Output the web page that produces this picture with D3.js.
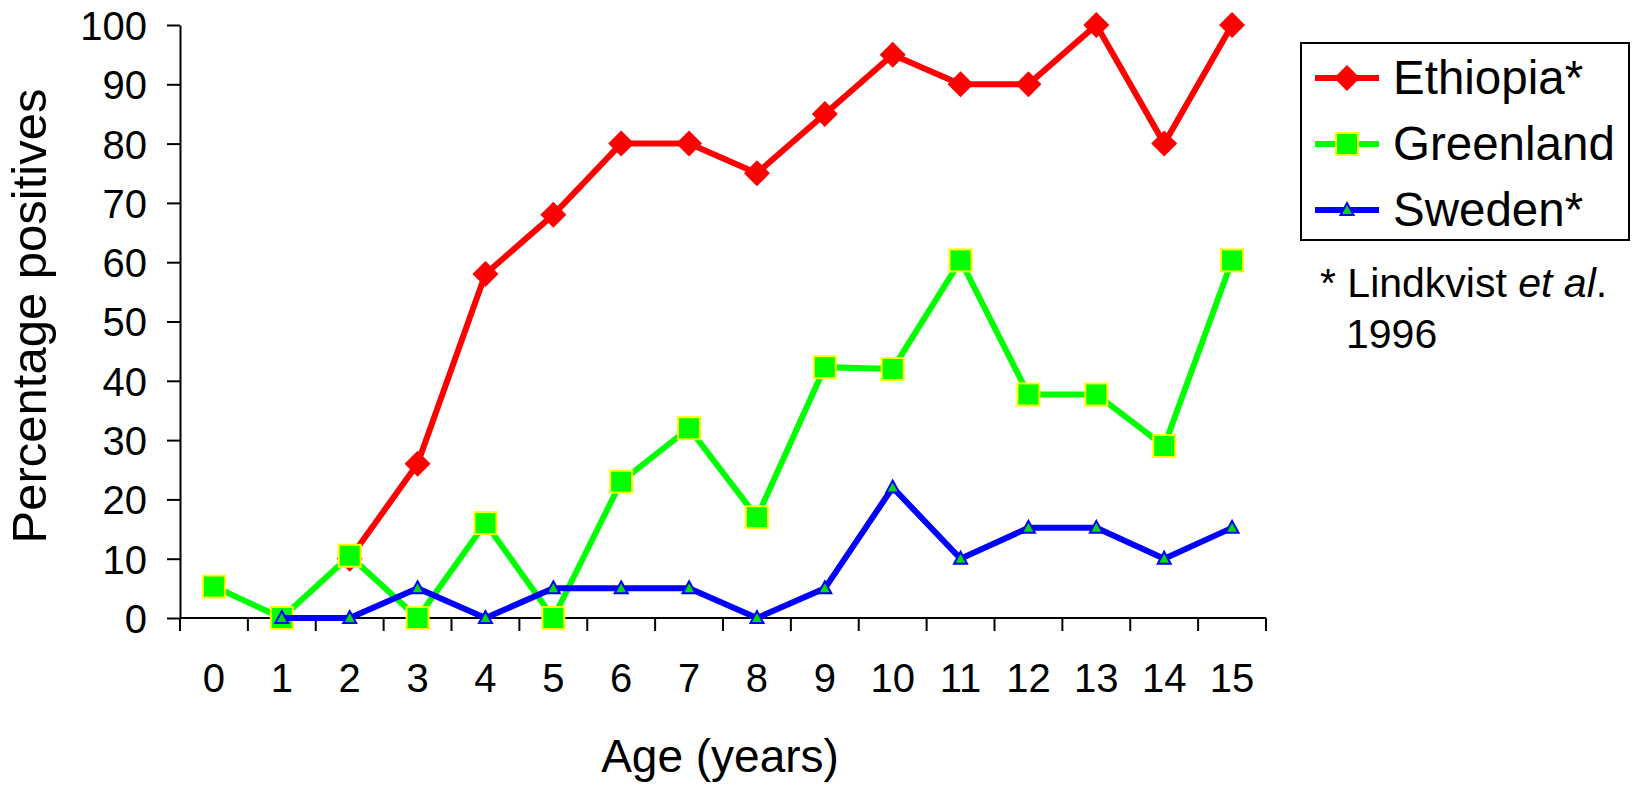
<!DOCTYPE html>
<html>
<head>
<meta charset="utf-8">
<script src="https://cdn.jsdelivr.net/npm/d3@7"></script>
<style>
  html, body { margin: 0; padding: 0; background: #fff; }
  svg { display: block; font-family: "Liberation Sans", Arial, sans-serif; }
</style>
</head>
<body>
<svg id="chart" width="1633" height="785"></svg>
<script>
// Age groups (years)
const ages = [0, 1, 2, 3, 4, 5, 6, 7, 8, 9, 10, 11, 12, 13, 14, 15];

// Percentage positives per age; null where no data
const ethiopia  = [null, null, 10, 26, 58, 68, 80, 80, 75, 85, 95, 90, 90, 100, 80, 100];
const greenland = [5.3, 0, 10.5, 0, 16, 0, 23, 32, 17, 42.3, 42, 60.3, 37.7, 37.7, 29, 60.3];
const sweden    = [null, 0, 0, 5, 0, 5, 5, 5, 0, 5, 22, 10, 15.2, 15.2, 10, 15.2];

const seriesNames = ["Ethiopia*", "Greenland", "Sweden*"];
const yTicks = [0, 10, 20, 30, 40, 50, 60, 70, 80, 90, 100];

const svg = d3.select("#chart");

const plotLeft = 180, plotRight = 1266, plotTop = 25, plotBottom = 618;

const x = d3.scaleBand().domain(ages).range([plotLeft, plotRight]).paddingInner(0).paddingOuter(0);
const y = d3.scaleLinear().domain([0, 100]).range([plotBottom, plotTop]);
const cx = d => x(d) + x.bandwidth() / 2;

// Y axis
const yAxis = d3.axisLeft(y).tickValues(yTicks).tickSize(13).tickPadding(20).tickSizeOuter(0);
const gy = svg.append("g").attr("transform", `translate(${plotLeft},0)`).call(yAxis);
gy.select(".domain").attr("stroke", "#000").attr("stroke-width", 2);
gy.selectAll(".tick line").attr("stroke", "#000").attr("stroke-width", 2);
gy.selectAll(".tick text").attr("font-size", 40).attr("fill", "#000")
  .attr("font-family", "Liberation Sans, Arial, sans-serif").attr("dy", "0.36em");

// X axis: baseline, ticks at category boundaries, labels centred in each category
const gx = svg.append("g");
gx.append("line").attr("x1", plotLeft).attr("x2", plotRight).attr("y1", plotBottom).attr("y2", plotBottom)
  .attr("stroke", "#000").attr("stroke-width", 2);
const edges = ages.map(a => x(a)).concat([plotRight]);
gx.selectAll("line.tick").data(edges).join("line").attr("class", "tick")
  .attr("x1", d => d).attr("x2", d => d).attr("y1", plotBottom).attr("y2", plotBottom + 13)
  .attr("stroke", "#000").attr("stroke-width", 2);
gx.selectAll("text").data(ages).join("text")
  .attr("x", d => cx(d)).attr("y", 692)
  .attr("text-anchor", "middle").attr("font-size", 40).attr("fill", "#000")
  .text(d => d);

// Axis titles
svg.append("text").attr("x", 720).attr("y", 772).attr("text-anchor", "middle")
  .attr("font-size", 46).attr("fill", "#000").text("Age (years)");
svg.append("text").attr("transform", "translate(46,316) rotate(-90)")
  .attr("text-anchor", "middle").attr("font-size", 49).attr("fill", "#000")
  .text("Percentage positives");

// Series styling
const styles = [
  { values: ethiopia,  color: "#ff0000", symbol: "diamond" },
  { values: greenland, color: "#00ff00", symbol: "square" },
  { values: sweden,    color: "#0000ff", symbol: "triangle" }
];

function drawMarker(g, kind) {
  if (kind === "diamond") {
    g.append("path").attr("d", "M0,-13L13,0L0,13L-13,0Z").attr("fill", "#ff0000");
  } else if (kind === "square") {
    g.append("rect").attr("x", -11).attr("y", -11).attr("width", 22).attr("height", 22)
      .attr("fill", "#00ff00").attr("stroke", "#ffff00").attr("stroke-width", 2);
  } else {
    g.append("path").attr("d", "M0,-7L6.5,5L-6.5,5Z")
      .attr("fill", "#00dd00").attr("stroke", "#0000ff").attr("stroke-width", 2)
      .attr("stroke-linejoin", "miter");
  }
}

const line = d3.line().defined(d => d.v !== null).x(d => cx(d.a)).y(d => y(d.v));

styles.forEach(s => {
  const pts = ages.map((a, i) => ({ a, v: s.values[i] }));
  svg.append("path").datum(pts).attr("d", line)
    .attr("fill", "none").attr("stroke", s.color).attr("stroke-width", 6)
    .attr("stroke-linejoin", "miter");
  pts.filter(p => p.v !== null).forEach(p => {
    const g = svg.append("g").attr("transform", `translate(${cx(p.a)},${y(p.v)})`);
    drawMarker(g, s.symbol);
  });
});

// Legend
const lg = svg.append("g");
lg.append("rect").attr("x", 1301).attr("y", 43).attr("width", 328).attr("height", 197)
  .attr("fill", "#fff").attr("stroke", "#000").attr("stroke-width", 2);
const legendY = [78, 144, 210];
styles.forEach((s, i) => {
  lg.append("line").attr("x1", 1315).attr("x2", 1379).attr("y1", legendY[i]).attr("y2", legendY[i])
    .attr("stroke", s.color).attr("stroke-width", 6);
  drawMarker(lg.append("g").attr("transform", `translate(1347,${legendY[i]})`), s.symbol);
  lg.append("text").attr("x", 1393).attr("y", legendY[i] + 16)
    .attr("font-size", 47.5).attr("fill", "#000").text(seriesNames[i]);
});

// Source note
const note = svg.append("g").attr("font-size", 41).attr("fill", "#000");
const t1 = note.append("text").attr("x", 1320).attr("y", 297);
t1.append("tspan").text("* Lindkvist ");
t1.append("tspan").attr("font-style", "italic").text("et al");
t1.append("tspan").text(".");
note.append("text").attr("x", 1346).attr("y", 348).text("1996");
</script>
</body>
</html>
